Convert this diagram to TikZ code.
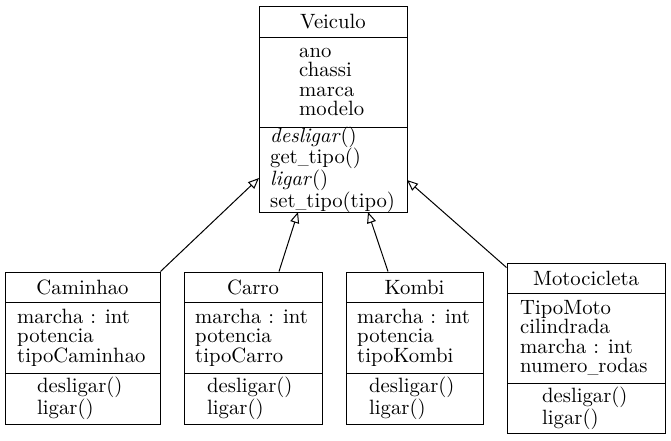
\documentclass[tikz,border=0pt]{standalone}
\usepackage{fontspec}
\usepackage{graphicx}
\setmainfont{lmroman10-regular}[Extension=.otf,ItalicFont=lmroman10-italic]
\usetikzlibrary{arrows.meta,calc}
\newcommand{\us}{\scalebox{0.7}[1]{\_}}
\begin{document}
\begin{tikzpicture}[x=1pt,y=-1pt,
  classbox/.style={draw,line width=1pt,rectangle,inner sep=0pt},
  txt/.style={inner sep=0pt,align=left,font=\fontsize{20.7}{19.5}\selectfont},
  ttl/.style={inner sep=0pt,font=\fontsize{20.7}{19.5}\selectfont},
  div/.style={line width=1pt},
  inherit/.style={line width=1pt,-{Triangle[open,length=11pt,width=9pt,line width=1pt]}}]
\useasboundingbox (0,0) rectangle (671,440);
% Veiculo
\node[classbox,minimum width=148pt,minimum height=206pt] (veiculo) at (333,109) {};
\draw[div] (259,37) -- (407,37);
\draw[div] (259,127) -- (407,127);
\node[ttl] (veiculoT) at (333,21.5) {Veiculo};
\node[txt,anchor=west] (veiculoA) at (299,82) {ano\\chassi\\marca\\modelo};
\node[txt,anchor=west] (veiculoM) at (270,169.5) {\textit{desligar}()\\get\us tipo()\\\textit{ligar}()\\set\us tipo(tipo)};
% Caminhao
\node[classbox,minimum width=155pt,minimum height=152pt] (caminhao) at (82.5,348) {};
\draw[div] (5,302) -- (160,302);
\draw[div] (5,373) -- (160,373);
\node[ttl] (caminhaoT) at (82.5,287) {Caminhao};
\node[txt,anchor=west] (caminhaoA) at (17,337.5) {marcha : int\\potencia\\tipoCaminhao};
\node[txt,anchor=west] (caminhaoM) at (37,398.5) {desligar()\\ligar()};
% Carro
\node[classbox,minimum width=138pt,minimum height=152pt] (carro) at (253,348) {};
\draw[div] (184,302) -- (322,302);
\draw[div] (184,373) -- (322,373);
\node[ttl] (carroT) at (253,287) {Carro};
\node[txt,anchor=west] (carroA) at (195,337.5) {marcha : int\\potencia\\tipoCarro};
\node[txt,anchor=west] (carroM) at (207,398.5) {desligar()\\ligar()};
% Kombi
\node[classbox,minimum width=137pt,minimum height=152pt] (kombi) at (414.5,348) {};
\draw[div] (346,302) -- (483,302);
\draw[div] (346,373) -- (483,373);
\node[ttl] (kombiT) at (414.5,287) {Kombi};
\node[txt,anchor=west] (kombiA) at (357,337.5) {marcha : int\\potencia\\tipoKombi};
\node[txt,anchor=west] (kombiM) at (369,398.5) {desligar()\\ligar()};
% Motocicleta
\node[classbox,minimum width=158pt,minimum height=170pt] (moto) at (586,348) {};
\draw[div] (507,293) -- (665,293);
\draw[div] (507,383) -- (665,383);
\node[ttl] (motoT) at (586,278) {Motocicleta};
\node[txt,anchor=west] (motoA) at (520,338) {TipoMoto\\cilindrada\\marcha : int\\numero\us rodas};
\node[txt,anchor=west] (motoM) at (542,408) {desligar()\\ligar()};
% connectors
\coordinate (tipC) at (259,178);
\coordinate (tipCa) at (298,212);
\coordinate (tipK) at (368,212);
\coordinate (tipM) at (407,180);
\draw[inherit] (caminhao.north east) -- (tipC);
\draw[inherit] ($(carro.north)+(26,0)$) -- (tipCa);
\draw[inherit] ($(kombi.north)+(-26.5,0)$) -- (tipK);
\draw[inherit] ($(moto.north west)+(0,5)$) -- (tipM);
\end{tikzpicture}
\end{document}
